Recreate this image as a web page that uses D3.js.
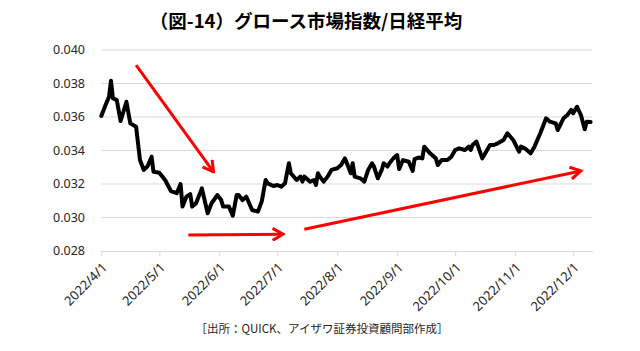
<!DOCTYPE html>
<html lang="ja">
<head>
<meta charset="UTF-8">
<title>グロース市場指数/日経平均</title>
<script src="https://d3js.org/d3.v7.min.js"></script>
<style>
  body { margin: 0; background: #fff; }
  #chart { display: block; font-family: "Noto Sans", sans-serif; }
</style>
</head>
<body>
<svg id="chart" width="640" height="351"></svg>
<script>
// ratio: growth market index / Nikkei 225
const dates = [
  "2022-04-01","2022-04-03","2022-04-05","2022-04-06","2022-04-07","2022-04-09","2022-04-11","2022-04-14",
  "2022-04-16","2022-04-19","2022-04-21","2022-04-23","2022-04-25","2022-04-27","2022-04-28","2022-05-01",
  "2022-05-04","2022-05-07","2022-05-10","2022-05-12","2022-05-13","2022-05-15","2022-05-17","2022-05-18",
  "2022-05-20","2022-05-23","2022-05-26","2022-05-28","2022-05-31","2022-06-02","2022-06-03","2022-06-06",
  "2022-06-08","2022-06-10","2022-06-11","2022-06-13","2022-06-15","2022-06-18","2022-06-21","2022-06-23",
  "2022-06-25","2022-06-26","2022-06-29","2022-07-01","2022-07-03","2022-07-05","2022-07-07","2022-07-08",
  "2022-07-11","2022-07-13","2022-07-14","2022-07-15","2022-07-18","2022-07-20","2022-07-21","2022-07-22",
  "2022-07-23","2022-07-25","2022-07-27","2022-07-29","2022-08-01","2022-08-03","2022-08-05","2022-08-06",
  "2022-08-08","2022-08-09","2022-08-10","2022-08-13","2022-08-15","2022-08-17","2022-08-19","2022-08-20",
  "2022-08-22","2022-08-24","2022-08-25","2022-08-27","2022-08-28","2022-08-30","2022-09-01","2022-09-02",
  "2022-09-04","2022-09-07","2022-09-09","2022-09-10","2022-09-12","2022-09-14","2022-09-15","2022-09-18",
  "2022-09-21","2022-09-22","2022-09-24","2022-09-27","2022-09-29","2022-10-01","2022-10-03","2022-10-06",
  "2022-10-08","2022-10-09","2022-10-10","2022-10-12","2022-10-15","2022-10-16","2022-10-19","2022-10-21",
  "2022-10-23","2022-10-26","2022-10-28","2022-10-31","2022-11-03","2022-11-04","2022-11-06","2022-11-09",
  "2022-11-11","2022-11-14","2022-11-17","2022-11-19","2022-11-22","2022-11-23","2022-11-26","2022-11-28",
  "2022-11-30","2022-12-01","2022-12-03","2022-12-05","2022-12-07","2022-12-08","2022-12-10"
];
const ratios = [
  0.03606,0.03666,0.03721,0.03817,0.03712,0.03701,0.03576,0.03691,
  0.03562,0.03542,0.03343,0.03284,0.03307,0.03363,0.03273,0.03267,
  0.03224,0.03158,0.03145,0.03200,0.03065,0.03124,0.03140,0.03065,
  0.03085,0.03174,0.03025,0.03085,0.03134,0.03104,0.03065,0.03065,
  0.03011,0.03134,0.03134,0.03104,0.03124,0.03045,0.03035,0.03098,
  0.03224,0.03204,0.03188,0.03194,0.03184,0.03204,0.03324,0.03264,
  0.03224,0.03244,0.03214,0.03244,0.03214,0.03224,0.03194,0.03264,
  0.03244,0.03214,0.03244,0.03284,0.03294,0.03313,0.03353,0.03324,
  0.03264,0.03324,0.03244,0.03234,0.03214,0.03284,0.03324,0.03304,
  0.03234,0.03284,0.03324,0.03304,0.03324,0.03353,0.03373,0.03289,
  0.03343,0.03333,0.03278,0.03349,0.03358,0.03353,0.03423,0.03383,
  0.03353,0.03313,0.03343,0.03343,0.03363,0.03403,0.03413,0.03403,
  0.03423,0.03403,0.03433,0.03453,0.03353,0.03373,0.03433,0.03433,
  0.03443,0.03463,0.03503,0.03463,0.03393,0.03423,0.03413,0.03383,
  0.03423,0.03503,0.03592,0.03572,0.03562,0.03522,0.03592,0.03612,
  0.03642,0.03622,0.03661,0.03612,0.03527,0.03572,0.03570
];

const yTicks = [0.028, 0.030, 0.032, 0.034, 0.036, 0.038, 0.040];
const xTicks = ["2022-04-01","2022-05-01","2022-06-01","2022-07-01","2022-08-01",
                "2022-09-01","2022-10-01","2022-11-01","2022-12-01"];

// red annotation arrows: [date, value] start and end
const arrowFrom = [["2022-04-19", 0.0391], ["2022-05-16", 0.02896], ["2022-07-15", 0.0293]];
const arrowTo   = [["2022-05-29", 0.03273], ["2022-07-04", 0.0290], ["2022-12-05", 0.03278]];

const titleText = "（図-14）グロース市場指数/日経平均";
const sourceText = "［出所：QUICK、アイザワ証券投資顧問部作成］";

const parse = d3.timeParse("%Y-%m-%d");
const data = dates.map((d, i) => ({ date: parse(d), value: ratios[i] }));

const svg = d3.select("#chart");
svg.append("rect").attr("width", 640).attr("height", 351).attr("fill", "#fff");

const x = d3.scaleTime()
  .domain([parse("2022-04-01"), parse("2022-12-11")])
  .range([101.3, 592.5]);

const y = d3.scaleLinear()
  .domain([0.028, 0.040])
  .range([251, 50]);

// gridlines
svg.append("g")
  .selectAll("line")
  .data(yTicks.slice(1))
  .join("line")
  .attr("x1", x.range()[0])
  .attr("x2", x.range()[1])
  .attr("y1", d => y(d))
  .attr("y2", d => y(d))
  .attr("stroke", "#d9d9d9")
  .attr("stroke-width", 1);

// y labels
svg.append("g")
  .selectAll("text")
  .data(yTicks)
  .join("text")
  .attr("x", 85)
  .attr("y", d => y(d))
  .attr("dy", "0.35em")
  .attr("text-anchor", "end")
  .attr("font-size", "12.5px")
  .attr("fill", "#262626")
  .text(d => d.toFixed(3));

// x axis
const fmt = d => `${d.getFullYear()}/${d.getMonth() + 1}/${d.getDate()}`;
const xAxis = svg.append("g")
  .attr("transform", `translate(0,${y(0.028)})`)
  .call(d3.axisBottom(x).tickValues(xTicks.map(parse)).tickFormat(fmt).tickSize(5).tickSizeOuter(0));

xAxis.select(".domain").attr("stroke", "#d9d9d9");
xAxis.selectAll(".tick line").attr("stroke", "#d9d9d9");
xAxis.selectAll(".tick text")
  .attr("x", 0)
  .attr("y", 0)
  .attr("dy", "0.35em")
  .attr("text-anchor", "end")
  .attr("transform", "translate(3,14) rotate(-45)")
  .attr("font-size", "13px")
  .attr("font-family", "Noto Sans, sans-serif")
  .attr("fill", "#262626");

// series line
const line = d3.line()
  .x(d => x(d.date))
  .y(d => y(d.value));

svg.append("path")
  .datum(data)
  .attr("fill", "none")
  .attr("stroke", "#000")
  .attr("stroke-width", 4)
  .attr("stroke-linejoin", "round")
  .attr("stroke-linecap", "round")
  .attr("d", line);

// arrows
svg.append("defs").append("marker")
  .attr("id", "head")
  .attr("viewBox", "0 0 14 14")
  .attr("refX", 12)
  .attr("refY", 7)
  .attr("markerWidth", 14)
  .attr("markerHeight", 14)
  .attr("markerUnits", "userSpaceOnUse")
  .attr("orient", "auto")
  .append("path")
  .attr("d", "M1.5,1 L12,7 L1.5,13")
  .attr("fill", "none")
  .attr("stroke", "#ff0000")
  .attr("stroke-width", 3);

svg.append("g")
  .selectAll("line")
  .data(arrowFrom.map((f, i) => [f, arrowTo[i]]))
  .join("line")
  .attr("x1", d => x(parse(d[0][0])))
  .attr("y1", d => y(d[0][1]))
  .attr("x2", d => x(parse(d[1][0])))
  .attr("y2", d => y(d[1][1]))
  .attr("stroke", "#ff0000")
  .attr("stroke-width", 3)
  .attr("marker-end", "url(#head)");

// title
svg.append("text")
  .attr("x", 306)
  .attr("y", 28)
  .attr("text-anchor", "middle")
  .attr("font-family", "Noto Sans CJK JP, sans-serif")
  .attr("font-weight", "bold")
  .attr("font-size", "18.5px")
  .attr("fill", "#000")
  .text(titleText);

// source
svg.append("text")
  .attr("x", 322)
  .attr("y", 333)
  .attr("text-anchor", "middle")
  .attr("font-family", "Noto Sans CJK JP, sans-serif")
  .attr("font-size", "11.5px")
  .attr("fill", "#262626")
  .text(sourceText);
</script>
</body>
</html>
